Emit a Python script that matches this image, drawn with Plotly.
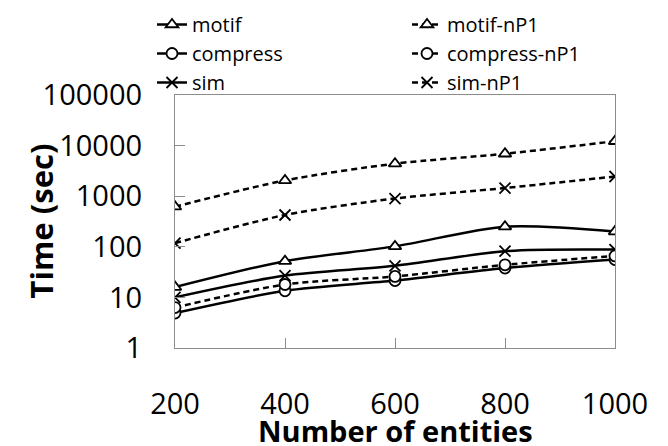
import plotly.graph_objects as go

entities = [200, 400, 600, 800, 1000]
motif = [16, 52, 102, 250, 200]
compress = [4.9, 13.5, 21.5, 38, 56]
sim = [10, 27, 42, 82, 88]
motif_nP1 = [620, 2050, 4400, 6900, 12200]
compress_nP1 = [6.3, 18, 26, 44, 66]
sim_nP1 = [118, 425, 900, 1450, 2450]

y_tickvals = [1, 10, 100, 1000, 10000, 100000]
y_ticktext = ["1", "10", "100", "1000", "10000", "100000"]
x_tickvals = [200, 400, 600, 800, 1000]

W, H = 668, 446
FONT = "Open Sans"

series = [
    ("motif", motif, "triangle-up", "solid", "legend"),
    ("compress", compress, "circle", "solid", "legend"),
    ("sim", sim, "x-thin", "solid", "legend"),
    ("motif-nP1", motif_nP1, "triangle-up", "6px,4px", "legend2"),
    ("compress-nP1", compress_nP1, "circle", "6px,4px", "legend2"),
    ("sim-nP1", sim_nP1, "x-thin", "6px,4px", "legend2"),
]

fig = go.Figure()
for name, vals, sym, dash, leg in series:
    fig.add_trace(go.Scatter(
        x=entities, y=vals, name=name, mode="lines+markers",
        line=dict(color="black", width=2.5, dash=dash, shape="spline", smoothing=0.8),
        marker=dict(symbol=sym, size=11, color="white",
                    line=dict(color="black", width=1.8)),
        legend=leg, legendgroup=name,
    ))

legend_common = dict(
    xref="container", yref="container", xanchor="left", yanchor="top",
    font=dict(family=FONT, size=20, color="black"),
    bgcolor="rgba(0,0,0,0)", tracegroupgap=0,
)

fig.update_layout(
    width=W, height=H,
    margin=dict(l=175, r=53, t=95, b=98, autoexpand=False),
    plot_bgcolor="white", paper_bgcolor="white",
    font=dict(family=FONT, color="black"),
    showlegend=True,
    legend=dict(x=152 / W, y=1 - 5 / H, **legend_common),
    legend2=dict(x=407 / W, y=1 - 5 / H, **legend_common),
    xaxis=dict(
        range=[200, 1000], tickvals=x_tickvals, automargin=False, tickangle=0,
        showgrid=False, zeroline=False,
        showline=True, linecolor="#8c8c8c", linewidth=1.2, mirror=True,
        ticks="inside", ticklen=10, tickcolor="#8c8c8c", tickwidth=1,
        tickfont=dict(family=FONT, size=29, color="black"),
        ticklabelstandoff=30,
    ),
    yaxis=dict(
        type="log", range=[0, 5], tickvals=y_tickvals, ticktext=y_ticktext,
        automargin=False,
        showgrid=False, zeroline=False,
        showline=True, linecolor="#8c8c8c", linewidth=1.2, mirror=True,
        ticks="inside", ticklen=10, tickcolor="#8c8c8c", tickwidth=1,
        tickfont=dict(family=FONT, size=29, color="black"),
        ticklabelstandoff=26,
    ),
    annotations=[
        dict(text="<b>Time (sec)</b>", xref="paper", yref="paper",
             x=(40 - 175) / 440, y=0.5, textangle=-90, showarrow=False,
             xanchor="center", yanchor="middle",
             font=dict(family=FONT, size=31, color="black")),
        dict(text="<b>Number of entities</b>", xref="paper", yref="paper",
             x=0.5, y=(348 - 431) / 253, showarrow=False,
             xanchor="center", yanchor="middle",
             font=dict(family=FONT, size=29, color="black")),
    ],
)

fig.write_html("out.html")
